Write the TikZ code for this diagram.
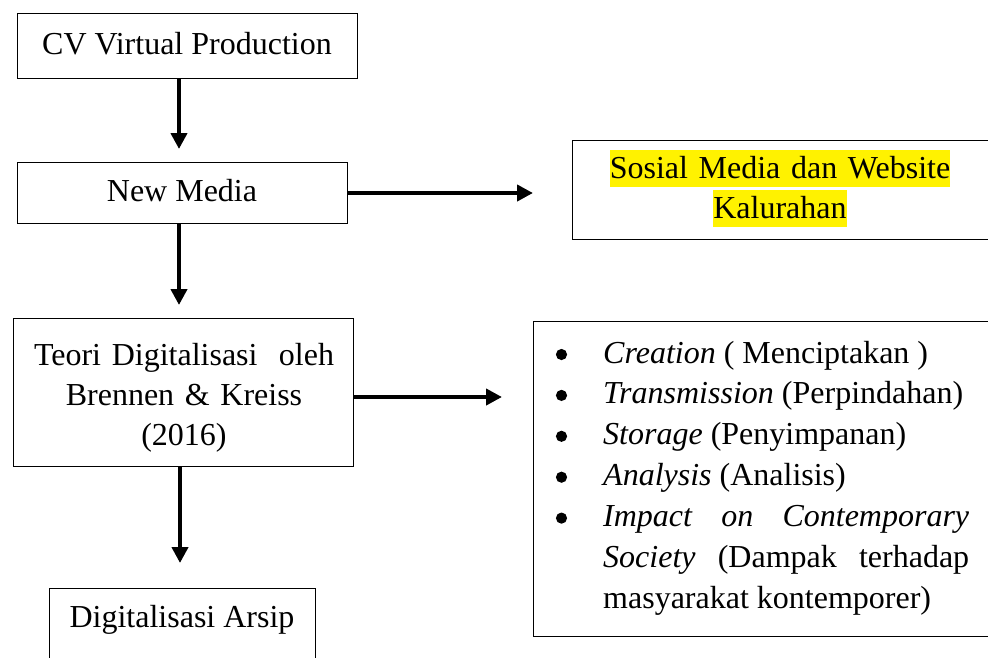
\documentclass[tikz,border=0pt]{standalone}
\usepackage{fontspec}
\setmainfont{Liberation Serif}
\usetikzlibrary{arrows.meta}
\newcommand\hlt[1]{{\setlength{\fboxsep}{0pt}\colorbox{yellow}{\rule[-9pt]{0pt}{37pt}#1}}}
\newcommand\itm[1]{\noindent\hangindent=47pt\hangafter=1\hspace*{47pt}#1\par}
\tikzset{
  boxn/.style={draw, line width=1pt, inner sep=0pt},
  txt/.style={inner sep=0pt, font=\fontsize{32}{40}\selectfont},
  arr/.style={line width=4.5pt, -{Triangle[length=16pt,width=16pt]}},
  bul/.style={fill=black},
}
\begin{document}
\begin{tikzpicture}[x=1pt,y=-1pt]
\useasboundingbox (0,0) rectangle (988,657);
\clip (0,0) rectangle (988,657);
\fill[white] (0,0) rectangle (988,657);

% boxes
\node[boxn, minimum width=340pt, minimum height=65pt] (cv) at (187,45.5) {};
\node[boxn, minimum width=330pt, minimum height=61pt] (nm) at (182,192.5) {};
\node[boxn, minimum width=432pt, minimum height=99pt] (sm) at (788,189.5) {};
\node[boxn, minimum width=340pt, minimum height=148pt] (teori) at (183,392) {};
\node[boxn, minimum width=470pt, minimum height=315pt] (list) at (768,478.5) {};
\node[boxn, minimum width=266pt, minimum height=92pt] (arsip) at (182,634) {};

% texts
\node[txt, anchor=base] (cvt) at (187,54) {CV Virtual Production};
\node[txt, anchor=base] (nmt) at (182,201) {New Media};
\node[txt, anchor=base, text width=420pt, align=center] (smt) at (780,178)
  {\hlt{Sosial Media dan Website}\\\hlt{Kalurahan}};
\node[txt, anchor=base, text width=340pt, align=center] (teorit) at (184,365)
  {Teori Digitalisasi\ \ oleh\\Brennen \& Kreiss\\(2016)};
\node[txt, anchor=base west, text width=413pt, align=justify] (listt) at (556,363) {%
  \setlength{\baselineskip}{40.9pt}%
  \itm{\textit{Creation} ( Menciptakan )}%
  \itm{\textit{Transmission} (Perpindahan)}%
  \itm{\textit{Storage} (Penyimpanan)}%
  \itm{\textit{Analysis} (Analisis)}%
  \itm{\textit{Impact on Contemporary}\linebreak \textit{Society} (Dampak terhadap\linebreak masyarakat kontemporer)}%
};
\node[txt, anchor=base] (arsipt) at (182,627) {Digitalisasi Arsip};

% bullets
\foreach \k in {0,...,4}
  \fill[bul] (561.5,{354.5+\k*40.9}) circle (5.6);

% connectors
\coordinate (e1) at (179,149);
\coordinate (e2) at (533,193);
\coordinate (e3) at (179,305);
\coordinate (e4) at (502,397);
\coordinate (e5) at (180,563);
\draw[arr] (cv.south -| e1) -- (e1);
\draw[arr] (nm.east |- e2) -- (e2);
\draw[arr] (nm.south -| e3) -- (e3);
\draw[arr] (teori.east |- e4) -- (e4);
\draw[arr] (teori.south -| e5) -- (e5);
\end{tikzpicture}
\end{document}
